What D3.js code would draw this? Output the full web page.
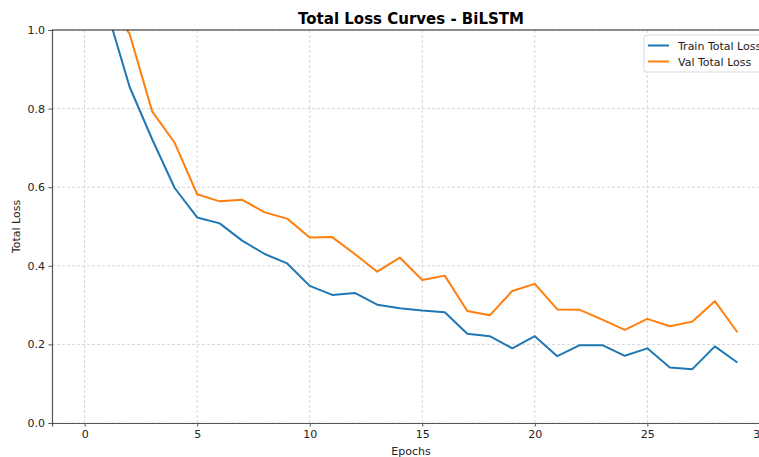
<!DOCTYPE html>
<html>
<head>
<meta charset="utf-8">
<script src="https://cdn.jsdelivr.net/npm/d3@7"></script>
<style>
  html, body { margin: 0; padding: 0; background: #fff; overflow: hidden; }
  svg { display: block; font-family: "DejaVu Sans", sans-serif; }
</style>
</head>
<body>
<svg id="chart" width="759" height="457"></svg>
<script>
// Per-epoch loss values
const epochs = d3.range(0, 30);
const trainLoss = [1.35, 1.048, 0.855, 0.722, 0.598, 0.523, 0.508, 0.464, 0.430, 0.406,
                   0.349, 0.326, 0.331, 0.301, 0.292, 0.286, 0.282, 0.227, 0.221, 0.190,
                   0.221, 0.170, 0.198, 0.198, 0.171, 0.190, 0.141, 0.137, 0.195, 0.154];
const valLoss   = [1.30, 1.07, 0.99, 0.793, 0.713, 0.582, 0.564, 0.568, 0.536, 0.520,
                   0.472, 0.473, 0.430, 0.385, 0.421, 0.364, 0.375, 0.285, 0.274, 0.336,
                   0.354, 0.289, 0.288, 0.263, 0.237, 0.265, 0.246, 0.258, 0.310, 0.231];
const xTicks = [0, 5, 10, 15, 20, 25, 30];
const yTicks = [0.0, 0.2, 0.4, 0.6, 0.8, 1.0];
const seriesNames = ["Train Total Loss", "Val Total Loss"];
const seriesColors = ["#1f77b4", "#ff7f0e"];

const svg = d3.select("#chart");
const m = { left: 52, right: 770, top: 30, bottom: 423 };

const x = d3.scaleLinear().domain([-1.45, 30.45]).range([m.left, m.right]);
const y = d3.scaleLinear().domain([0, 1]).range([m.bottom, m.top]);

// Grid
const grid = svg.append("g").attr("stroke", "#cccccc").attr("stroke-width", 0.8)
  .attr("stroke-dasharray", "3,2");
grid.selectAll(".gx").data(xTicks).join("line")
  .attr("x1", d => x(d)).attr("x2", d => x(d))
  .attr("y1", m.top).attr("y2", m.bottom);
grid.selectAll(".gy").data(yTicks).join("line")
  .attr("x1", m.left).attr("x2", m.right)
  .attr("y1", d => y(d)).attr("y2", d => y(d));

// Lines, clipped to the plot area
svg.append("clipPath").attr("id", "plot-clip").append("rect")
  .attr("x", m.left).attr("y", m.top)
  .attr("width", m.right - m.left).attr("height", m.bottom - m.top);

const line = d3.line().x((d, i) => x(epochs[i])).y(d => y(d));
const lines = svg.append("g").attr("clip-path", "url(#plot-clip)");
[trainLoss, valLoss].forEach((vals, k) => {
  lines.append("path").datum(vals)
    .attr("d", line)
    .attr("fill", "none")
    .attr("stroke", seriesColors[k])
    .attr("stroke-width", 2)
    .attr("stroke-linejoin", "round");
});

// Axes
const xAxis = svg.append("g").attr("transform", `translate(0,${m.bottom})`)
  .call(d3.axisBottom(x).tickValues(xTicks).tickFormat(d3.format("d")).tickSize(3.5).tickPadding(3.5));
const yAxis = svg.append("g").attr("transform", `translate(${m.left},0)`)
  .call(d3.axisLeft(y).tickValues(yTicks).tickFormat(d3.format(".1f")).tickSize(3.5).tickPadding(3.5));
[xAxis, yAxis].forEach(a => {
  a.select(".domain").attr("stroke", "#555").attr("stroke-width", 1.2);
  a.selectAll(".tick line").attr("stroke", "#555");
  a.selectAll(".tick text").attr("fill", "#222").attr("font-size", 11)
    .attr("font-family", "DejaVu Sans, sans-serif");
});
// Top spine
svg.append("line").attr("x1", m.left).attr("x2", m.right)
  .attr("y1", m.top).attr("y2", m.top).attr("stroke", "#222").attr("stroke-width", 1);

// Title and labels
svg.append("text").attr("x", (m.left + m.right) / 2).attr("y", 24)
  .attr("text-anchor", "middle").attr("font-size", 15).attr("font-weight", "bold")
  .attr("fill", "#000").text("Total Loss Curves - BiLSTM");
svg.append("text").attr("x", (m.left + m.right) / 2).attr("y", 455)
  .attr("text-anchor", "middle").attr("font-size", 11).attr("fill", "#222").text("Epochs");
svg.append("text").attr("transform", `translate(20,${(m.top + m.bottom) / 2}) rotate(-90)`)
  .attr("text-anchor", "middle").attr("font-size", 11).attr("fill", "#222").text("Total Loss");

// Legend
const lg = svg.append("g").attr("transform", "translate(644,35)");
lg.append("rect").attr("x", 0).attr("y", 0).attr("width", 130).attr("height", 37)
  .attr("rx", 2.5).attr("fill", "#fff").attr("fill-opacity", 0.85)
  .attr("stroke", "#d9d9d9").attr("stroke-width", 1);
seriesNames.forEach((name, i) => {
  const gy = 10.5 + i * 16;
  lg.append("line").attr("x1", 4).attr("x2", 25).attr("y1", gy).attr("y2", gy)
    .attr("stroke", seriesColors[i]).attr("stroke-width", 2);
  lg.append("text").attr("x", 34).attr("y", gy + 4).attr("font-size", 11)
    .attr("fill", "#222").text(name);
});
</script>
</body>
</html>
